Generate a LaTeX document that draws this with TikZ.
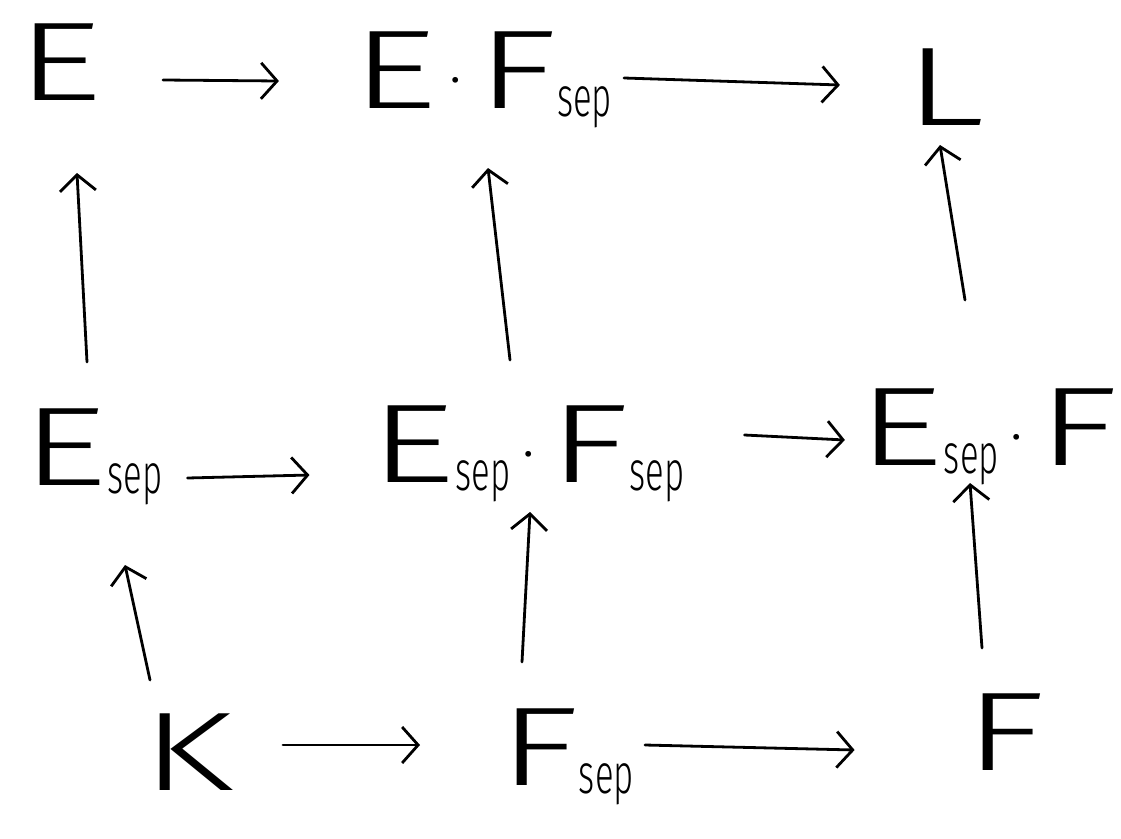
\documentclass[tikz,border=0pt]{standalone}
\usepackage{fontspec}
\setmainfont{Fira Sans Light}
\usetikzlibrary{arrows.meta}
% wide capital letters, a small lowered "sep" subscript and a product dot
\newcommand{\wcap}[1]{\scalebox{1.5}[1]{#1}}
\newcommand{\lowsep}{\raisebox{-8pt}{\fontsize{56}{56}\selectfont\scalebox{0.62}[1]{sep}}}
\newcommand{\mdot}{\kern12pt\raisebox{26pt}{\fontsize{60}{60}\selectfont.}\kern14pt}
\begin{document}
\begin{tikzpicture}[x=1pt,y=-1pt,
  field/.style={anchor=center,inner sep=0pt,outer sep=0pt,text height=80pt,text depth=0pt,
    font=\fontsize{112}{112}\selectfont},
  map/.style={line width=2.8pt,line cap=round,
    -{Straight Barb[length=16pt,width=36pt,line width=2.8pt]}}]
\useasboundingbox (0,0) rectangle (1121,838);
% top row
\node[field,minimum width=80pt]  (E)   at (60,60)   {\wcap{E}};
\node[field,minimum width=235pt] (EFs) at (482,68)  {\wcap{E}\mdot\wcap{F}\lowsep};
\node[field,minimum width=80pt]  (L)   at (945,85)  {\wcap{L}};
% middle row
\node[field,minimum width=135pt] (Es)   at (92,445)  {\wcap{E}\lowsep};
\node[field,minimum width=265pt] (EsFs) at (527,442) {\wcap{E}\lowsep\mdot\wcap{F}\lowsep};
\node[field,minimum width=240pt] (EsF)  at (988,425) {\wcap{E}\lowsep\mdot\wcap{F}};
% bottom row
\node[field,minimum width=75pt]  (K)  at (187,750)  {\wcap{K}};
\node[field,minimum width=138pt] (Fs) at (566,745)  {\wcap{F}\lowsep};
\node[field,minimum width=60pt]  (F)  at (1005,730) {\wcap{F}};
% horizontal maps
\draw[map] ([shift={(60,20)}]E.east)     -- ([shift={(-73,13)}]EFs.west);
\draw[map] ([shift={(12,10)}]EFs.east)   -- ([shift={(-65,0)}]L.west);
\draw[map] ([shift={(25,33)}]Es.east)    -- ([shift={(-60,33)}]EsFs.west);
\draw[map] ([shift={(60,-7)}]EsFs.east)  -- ([shift={(-13,15)}]EsF.west);
\draw[map] ([shift={(50,-5)}]K.east)     -- ([shift={(-77,0)}]Fs.west);
\draw[map] ([shift={(10,0)}]Fs.east)     -- ([shift={(-110,20)}]F.west);
% vertical maps
\draw[map] ([shift={(-5,-43)}]Es.north)   -- ([shift={(17,73)}]E.south);
\draw[map] ([shift={(-17,-42)}]EsFs.north)-- ([shift={(6,60)}]EFs.south);
\draw[map] ([shift={(-23,-85)}]EsF.north) -- ([shift={(-5,20)}]L.south);
\draw[map] ([shift={(-37,-30)}]K.north)   -- ([shift={(33,80)}]Es.south);
\draw[map] ([shift={(-44,-43)}]Fs.north)  -- ([shift={(3,30)}]EsFs.south);
\draw[map] ([shift={(-23,-42)}]F.north)   -- ([shift={(-18,18)}]EsF.south);
\end{tikzpicture}
\end{document}
